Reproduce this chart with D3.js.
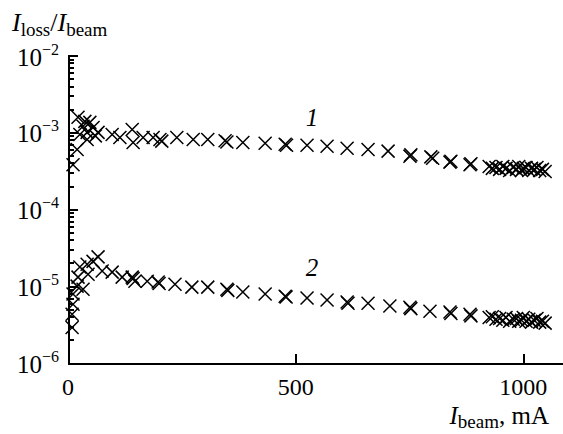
<!DOCTYPE html>
<html>
<head>
<meta charset="utf-8">
<script src="https://cdn.jsdelivr.net/npm/d3@7"></script>
<style>
  body { margin: 0; background: #fff; }
  svg { display: block; font-family: "Liberation Serif", "Times New Roman", serif; }
  .axis path, .axis line { stroke: #000; stroke-width: 2; shape-rendering: crispEdges; }
</style>
</head>
<body>
<div id="chart"></div>
<script>
// Beam loss ratio vs beam current, two measurement series (log y)

// Series 1 (upper curve)
var current1 = [11, 20, 22, 26, 33, 37, 42, 42, 48, 55, 60, 66, 97, 114, 141, 143, 165, 187, 202, 206,
    239, 275, 307, 345, 349, 384, 433, 477, 480, 525, 569, 613, 659, 703, 751, 753, 797, 801, 839, 841,
    883, 885, 925, 932, 940, 948, 955, 962, 970, 978, 985, 990, 996, 1000, 1006, 1012, 1018, 1024, 1030,
    1036, 1042, 1048];
var ratio1 = [3.8e-4, 6.0e-4, 1.57e-3, 9.4e-4, 1.2e-3, 1.39e-3, 1.0e-3, 8.1e-4, 1.35e-3, 1.16e-3, 9.0e-4, 1.0e-3,
    9.4e-4, 8.6e-4, 1.09e-3, 7.4e-4, 8.6e-4, 8.6e-4, 8.1e-4, 7.7e-4,
    8.6e-4, 8.1e-4, 8.1e-4, 7.8e-4, 7.5e-4, 7.4e-4, 7.2e-4, 7.0e-4, 6.8e-4, 6.8e-4, 6.6e-4, 6.2e-4, 6.0e-4,
    5.7e-4, 4.9e-4, 5.1e-4, 4.8e-4, 4.6e-4, 4.1e-4, 4.2e-4,
    3.8e-4, 3.9e-4, 3.6e-4, 3.4e-4, 3.5e-4, 3.3e-4, 3.6e-4, 3.4e-4, 3.2e-4, 3.5e-4, 3.3e-4, 3.6e-4, 3.2e-4,
    3.4e-4, 3.5e-4, 3.2e-4, 3.4e-4, 3.3e-4, 3.5e-4, 3.2e-4, 3.3e-4, 3.1e-4];

// Series 2 (lower curve)
var current2 = [9, 9, 11, 11, 20, 22, 26, 33, 42, 44, 55, 66, 75, 97, 119, 141, 143, 147, 174, 198, 200,
    235, 272, 307, 349, 351, 384, 433, 477, 479, 525, 569, 613, 615, 659, 707, 751, 753, 795, 839, 841,
    883, 885, 925, 932, 940, 948, 955, 962, 970, 978, 985, 990, 996, 1000, 1006, 1012, 1018, 1024, 1030,
    1036, 1042, 1048];
var ratio2 = [2.9e-6, 4.3e-6, 5.8e-6, 7.9e-6, 1.0e-5, 1.31e-5, 1.77e-5, 9.1e-6, 1.93e-5, 1.43e-5, 2.1e-5, 2.4e-5,
    1.57e-5, 1.52e-5, 1.31e-5, 1.31e-5, 1.26e-5, 1.16e-5, 1.16e-5, 1.13e-5, 1.08e-5,
    1.06e-5, 9.7e-6, 9.7e-6, 9.1e-6, 8.8e-6, 8.4e-6, 7.9e-6, 7.4e-6, 7.2e-6, 7.0e-6, 6.6e-6, 6.2e-6, 6.0e-6,
    6.0e-6, 5.5e-6, 5.3e-6, 5.1e-6, 4.7e-6, 4.6e-6, 4.4e-6,
    4.3e-6, 4.1e-6, 3.9e-6, 4.0e-6, 3.7e-6, 3.8e-6, 3.6e-6, 3.9e-6, 3.5e-6, 3.7e-6, 3.8e-6, 3.5e-6, 3.6e-6,
    3.9e-6, 3.5e-6, 3.7e-6, 3.4e-6, 3.6e-6, 3.8e-6, 3.4e-6, 3.5e-6, 3.3e-6];

// Tick values
var xTicks = [0, 500, 1000];
var yExponents = [-6, -5, -4, -3, -2];
// Curve numbers and where they sit (mA, ratio)
var curveLabels = ["1", "2"];
var curveLabelAt = [[536, 1.2e-3], [536, 1.35e-5]];

// Chart box
var width = 563;
var height = 434;
var plotLeft = 68, plotRight = 562, plotTop = 55.5, plotBottom = 363;

var svg = d3.select("#chart")
    .append("svg")
    .attr("width", width)
    .attr("height", height);

var xScale = d3.scaleLinear().domain([0, 1085]).range([plotLeft, plotRight]);
var yScale = d3.scaleLog().domain([1e-6, 1e-2]).range([plotBottom, plotTop]);

// Minor log ticks (2..9 in each decade)
var minorTicks = [];
yExponents.slice(0, -1).forEach(function(e) {
    for (var k = 2; k <= 9; k++) minorTicks.push(k * Math.pow(10, e));
});
var majorTicks = yExponents.map(function(e) { return Math.pow(10, e); });

// Y axis - minor ticks first, then major with the axis line
svg.append("g")
    .attr("class", "axis")
    .attr("transform", "translate(" + plotLeft + ",0)")
    .call(d3.axisLeft(yScale).tickValues(minorTicks).tickSize(-6).tickSizeOuter(0).tickFormat(""))
    .select(".domain").remove();
svg.append("g")
    .attr("class", "axis")
    .attr("transform", "translate(" + plotLeft + ",0)")
    .call(d3.axisLeft(yScale).tickValues(majorTicks).tickSize(-10).tickSizeOuter(0).tickFormat(""));

// X axis
svg.append("g")
    .attr("class", "axis")
    .attr("transform", "translate(0," + plotBottom + ")")
    .call(d3.axisBottom(xScale).tickValues(xTicks).tickSize(-9).tickSizeOuter(0).tickFormat(""));

// Y tick labels as 10^n
var yLab = svg.append("g")
    .selectAll("text")
    .data(yExponents)
    .enter()
    .append("text")
    .attr("x", 59)
    .attr("y", function(e) { return yScale(Math.pow(10, e)) + 10; })
    .attr("text-anchor", "end")
    .attr("font-size", 25);
yLab.append("tspan").text("10");
yLab.append("tspan")
    .attr("font-size", 16)
    .attr("dy", -11)
    .text(function(e) { return "\u2212" + Math.abs(e); });

// X tick labels
svg.append("g")
    .selectAll("text")
    .data(xTicks)
    .enter()
    .append("text")
    .attr("x", function(d) { return xScale(d); })
    .attr("y", plotBottom + 32)
    .attr("text-anchor", "middle")
    .attr("font-size", 24)
    .text(function(d) { return d; });

// Axis titles
var yTitle = svg.append("text")
    .attr("x", 12)
    .attr("y", 31)
    .attr("font-size", 26);
yTitle.append("tspan").attr("font-style", "italic").text("I");
yTitle.append("tspan").attr("font-size", 19).attr("dy", 5).text("loss");
yTitle.append("tspan").attr("dy", -5).text("/");
yTitle.append("tspan").attr("font-style", "italic").text("I");
yTitle.append("tspan").attr("font-size", 19).attr("dy", 5).text("beam");

var xTitle = svg.append("text")
    .attr("x", 549)
    .attr("y", 424)
    .attr("text-anchor", "end")
    .attr("font-size", 25);
xTitle.append("tspan").attr("font-style", "italic").text("I");
xTitle.append("tspan").attr("font-size", 19).attr("dy", 4).text("beam");
xTitle.append("tspan").attr("dy", -4).text(", mA");

// Cross markers
var s = 6.5;
function cross(x, y) {
    return "M" + (x - s) + "," + (y - s) + "L" + (x + s) + "," + (y + s) +
        "M" + (x - s) + "," + (y + s) + "L" + (x + s) + "," + (y - s);
}
function drawSeries(cur, rat) {
    svg.append("g")
        .selectAll("path")
        .data(d3.range(cur.length))
        .enter()
        .append("path")
        .attr("d", function(i) { return cross(xScale(cur[i]), yScale(rat[i])); })
        .attr("stroke", "#000")
        .attr("stroke-width", 1.5)
        .attr("fill", "none");
}
drawSeries(current1, ratio1);
drawSeries(current2, ratio2);

// Curve numbers
svg.append("g")
    .selectAll("text")
    .data(curveLabels)
    .enter()
    .append("text")
    .attr("x", function(d, i) { return xScale(curveLabelAt[i][0]); })
    .attr("y", function(d, i) { return yScale(curveLabelAt[i][1]); })
    .attr("text-anchor", "middle")
    .attr("font-style", "italic")
    .attr("font-size", 25)
    .text(function(d) { return d; });
</script>
</body>
</html>
